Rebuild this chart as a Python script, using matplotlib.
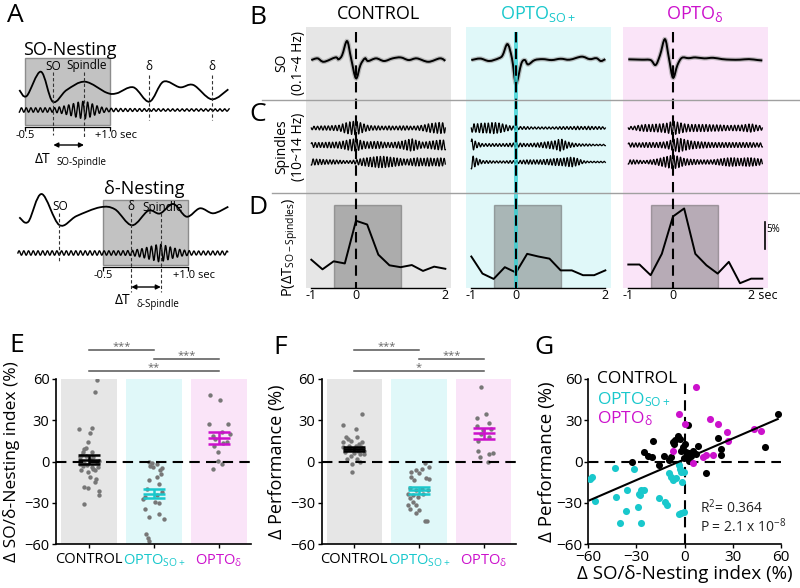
import numpy as np
import matplotlib
matplotlib.use('Agg')
import matplotlib.pyplot as plt
from matplotlib.path import Path
from matplotlib.patches import PathPatch, Rectangle
from matplotlib.lines import Line2D

plt.rcParams['font.family'] = ['Open Sans', 'DejaVu Sans']
plt.rcParams['mathtext.fontset'] = 'custom'
plt.rcParams['mathtext.rm'] = 'Open Sans'
plt.rcParams['mathtext.it'] = 'Open Sans'
plt.rcParams['mathtext.bf'] = 'Open Sans:bold'

W, H = 800, 588
CYAN = '#19c8cc'
MAGENTA = '#cc11cc'
BG = ['#e6e6e6', '#e0f8f9', '#fae4f8']
GROUP_COLORS = ['black', CYAN, MAGENTA]
group_labels = ['CONTROL', r'OPTO$_{\mathrm{SO+}}$', r'OPTO$_{\mathrm{\delta}}$']

# ---------------- panel A (schematic) ----------------
a_top_so_t = [-0.60, -0.47, -0.22, -0.01, 0.235, 0.558, 0.94, 1.117, 1.411, 1.693, 1.94, 2.234, 2.469, 2.792, 3.086]
a_top_so_amp = [0, -6, 18.3, -11.7, 0, 8.3, -2.7, -3.3, 2.7, -11.7, 8.3, 2.7, 5, -9.3, 0.7]
a_top_sp_t = [-0.6, 0.0, 0.15, 0.3, 0.45, 0.55, 0.65, 0.8, 0.95, 1.2, 2.0, 3.1]
a_top_sp_env = [2.2, 2.2, 3.5, 5.5, 8, 9, 7, 3.5, 1.8, 1.5, 1.2, 1.2]
a_top_marks = [0.0, 0.54, 1.69, 2.79]

a_bot_so_t = [-1.975, -1.816, -1.581, -1.27, -0.964, -0.552, -0.288, 0.012, 0.30, 0.506, 0.741, 0.976, 1.212, 1.447, 1.711]
a_bot_so_amp = [-0.3, -4.7, 23, -8, 1, 9.7, 7.7, -8.3, 6.3, 3.5, 13, 0.3, 8.7, 3.7, 10.3]
a_bot_sp_t = [-2.0, -0.2, 0.0, 0.2, 0.4, 0.5, 0.6, 0.75, 0.9, 1.1, 1.7]
a_bot_sp_env = [2.2, 2.2, 2.5, 4.5, 7.5, 9, 7.5, 5, 3, 2, 2]
a_bot_marks = [-1.27, 0.0, 0.52]

# ---------------- panels B-D ----------------
so_t = [
    [-1.0, -0.86, -0.72, -0.46, -0.39, -0.31, -0.20, -0.11, 0.0, 0.10, 0.20, 0.27, 0.45, 0.63, 0.82, 1.0, 1.18, 1.36, 1.62, 1.88, 2.0],
    [-1.0, -0.8, -0.6, -0.39, -0.30, -0.19, -0.09, 0.0, 0.12, 0.20, 0.27, 0.42, 0.6, 0.8, 1.0, 1.2, 1.47, 1.65, 1.8, 1.9, 2.0],
    [-1.0, -0.7, -0.5, -0.39, -0.29, -0.18, -0.09, 0.0, 0.10, 0.20, 0.35, 0.5, 0.7, 0.9, 1.1, 1.3, 1.5, 1.7, 1.9, 2.0],
]
so_val = [
    [0, 0.09, -0.09, 0.14, 0.04, 0.26, 1.0, 0.09, -0.96, -0.26, 0.09, -0.05, 0.09, -0.05, 0.09, 0.14, 0, 0.09, -0.09, 0.09, -0.04],
    [0, 0.08, -0.05, 0.09, 0.25, 0.84, 0.09, -1.23, -0.18, 0.0, -0.23, 0.0, 0.05, 0.0, 0.07, 0.02, 0.18, 0.05, 0.1, -0.05, 0.05],
    [0.04, 0.02, 0.0, -0.26, 0.26, 1.1, 0.09, -0.93, -0.26, 0.12, 0.10, 0.14, 0.09, 0.12, 0.05, 0.02, 0.02, 0.05, 0.0, -0.02],
]

env_t = np.arange(-1.0, 2.001, 0.125)
spindle_env = [
    [
        [0.25, 0.25, 0.3, 0.3, 0.35, 0.4, 0.7, 0.9, 1.0, 0.7, 0.4, 0.3, 0.3, 0.25, 0.3, 0.25, 0.3, 0.3, 0.25, 0.3, 0.4, 0.6, 0.7, 0.8, 0.7],
        [0.35, 0.35, 0.35, 0.4, 0.4, 0.45, 0.6, 0.8, 0.9, 0.6, 0.45, 0.5, 0.5, 0.4, 0.35, 0.4, 0.5, 0.7, 0.9, 0.6, 0.4, 0.5, 0.6, 0.7, 0.7],
        [0.45, 0.4, 0.35, 0.3, 0.3, 0.25, 0.2, 0.2, 0.3, 0.5, 0.6, 0.7, 0.8, 0.8, 0.7, 0.6, 0.5, 0.4, 0.5, 0.6, 0.5, 0.6, 0.5, 0.6, 0.5],
    ],
    [
        [0.6, 0.6, 0.7, 0.7, 0.8, 0.7, 0.5, 0.3, 0.25, 0.2, 0.2, 0.15, 0.15, 0.15, 0.15, 0.15, 0.2, 0.2, 0.2, 0.25, 0.2, 0.25, 0.2, 0.2, 0.15],
        [0.9, 0.4, 0.2, 0.2, 0.2, 0.2, 0.2, 0.25, 0.3, 0.25, 0.2, 0.25, 0.3, 0.4, 0.5, 0.6, 0.9, 0.5, 0.3, 0.2, 0.15, 0.15, 0.1, 0.1, 0.1],
        [1.0, 0.5, 0.2, 0.2, 0.15, 0.15, 0.15, 0.2, 0.2, 0.25, 0.3, 0.3, 0.3, 0.35, 0.4, 0.5, 0.5, 0.6, 0.7, 0.5, 0.2, 0.1, 0.1, 0.1, 0.1],
    ],
    [
        [0.2, 0.25, 0.4, 0.5, 0.5, 0.55, 0.6, 0.7, 1.0, 0.8, 0.6, 0.5, 0.5, 0.5, 0.5, 0.45, 0.45, 0.4, 0.35, 0.4, 0.4, 0.5, 0.6, 0.4, 0.3],
        [0.3, 0.3, 0.3, 0.35, 0.35, 0.35, 0.4, 0.5, 0.8, 1.0, 0.8, 0.6, 0.5, 0.45, 0.4, 0.35, 0.35, 0.35, 0.35, 0.35, 0.35, 0.35, 0.35, 0.3, 0.3],
        [0.3, 0.3, 0.25, 0.2, 0.3, 0.4, 0.6, 0.8, 1.0, 0.8, 0.5, 0.4, 0.35, 0.3, 0.3, 0.3, 0.4, 0.5, 0.6, 0.6, 0.5, 0.6, 0.6, 0.5, 0.4],
    ],
]
spindle_freq = 12.5

hist_t = np.arange(-1.0, 2.001, 0.25)
hist_pct = [
    [5.3, 3.5, 5.0, 4.6, 12.6, 11.9, 6.25, 4.25, 3.9, 4.3, 3.2, 4.0, 3.6],
    [5.9, 2.7, 1.7, 3.9, 2.9, 6.4, 5.9, 5.5, 3.3, 3.3, 2.4, 2.4, 3.3],
    [4.4, 4.4, 2.4, 6.4, 13.4, 14.9, 6.4, 4.25, 2.7, 4.9, 0.9, 1.75, 1.75],
]
window = (-0.5, 1.0)
window_top = 15.5
d_ticklabels = [['-1', '0', '2'], ['-1', '0', '2'], ['-1', '0', '2 sec']]

# ---------------- panel E ----------------
e_off = [
    [0.12, 0.09, -0.16, 0.04, 0.01, -0.02, -0.07, -0.09, -0.10, -0.05, 0.06, -0.12, -0.07, -0.03, 0.04, 0.09, -0.02, -0.12,
     0.01, 0.11, 0.09, -0.07, -0.02, 0.15, 0.15, -0.07, -0.14, 0.12, 0.01, -0.09, 0.05, 0.16, -0.04, 0.06, -0.14, 0.14],
    [-0.08, -0.03, 0.04, 0.13, 0.09, -0.01, -0.06, 0.11, 0.04, -0.08, 0.08, -0.10, 0.13, -0.14, 0.05, -0.14, 0.01, 0.08,
     -0.08, 0.08, 0.15, -0.13, -0.09, -0.07, -0.17],
    [-0.14, 0.02, -0.16, 0.14, -0.09, 0.04, 0.17, 0.12, -0.08, 0.06, -0.01, -0.02, 0.04, -0.09, -0.06],
]
e_val = [
    [59, 50.6, 23.5, 24.2, 21, 14.4, 9, 6.7, 5, 4.3, 3, 0.7, -1.2, -2.2, -4, -6.5, -7.7, -6,
     -11.3, -12.5, -15, -18.5, -19, -21.4, -24.5, -31, 3, -0.5, 2, -3.6, 6.7, 0.7, 10, -5.3, -1.7, -4],
    [0, -1, -1.7, -4.6, -6, -4, -3, -9, -11.3, -13.7, -16, -19.7, -22, -26, -24.5, -34.8, -29.7, -30.5,
     -40.5, -38.4, -42, -53, -55.6, -58, -27],
    [48.2, 44.4, 27.6, 27.1, 18.7, 21.1, 19.9, 14.4, 11.5, 13.2, 6.7, 0.7, -1.7, -5.8, 16.3],
]
e_mean = [1.4, -23.3, 17.0]
e_sem = [3.0, 3.6, 4.2]
e_sig = ['***', '***', '**']

# ---------------- panel F ----------------
f_off = [
    [0.12, -0.17, 0.03, -0.13, 0.04, -0.05, -0.10, 0.07, 0.12, -0.17, -0.08, 0.10, 0.15, -0.14, 0.0, 0.08, -0.05, -0.12,
     0.04, 0.09, -0.03, -0.03, -0.08, 0.02, 0.15, -0.17, 0.05],
    [0.09, 0.16, 0.04, -0.05, -0.12, 0.0, -0.12, -0.08, 0.11, 0.16, -0.14, 0.04, -0.04, 0.14, -0.17, -0.09, 0.06, -0.14,
     -0.02, -0.17, -0.04, -0.14, 0.0, -0.04, 0.09, 0.12, -0.09],
    [-0.04, -0.11, 0.04, -0.11, 0.08, -0.01, 0.12, -0.04, -0.09, 0.09, -0.08, 0.09, 0.14, -0.06, 0.07],
]
f_val = [
    [34.3, 26.4, 23.5, 17.5, 18, 15.1, 16.3, 12.7, 13.9, 10.3, 9.1, 10.3, 7.9, 6.7, 6, 5.5, 4.3, 1.9,
     1.9, -0.5, -1.7, -7.7, 11.5, 11.5, 5.5, 13.9, 7.9],
    [-1.2, -4, -5.3, -6.5, -7.7, -8.4, -11.3, -13.2, -11.8, -12.5, -19, -19.7, -20.9, -20.9, -23.3, -24.5, -23.3, -26.9,
     -25.7, -31.7, -31.7, -34.8, -35.3, -37.2, -43, -43.4, -29.3],
    [54, 31.4, 34.3, 25.9, 28.3, 22.8, 23.5, 19.9, 15.1, 17.5, 7.9, 5.5, 6, 3.1, -0.5],
]
f_mean = [9.1, -20.9, 20.4]
f_sem = [1.7, 2.6, 4.1]
f_sig = ['***', '***', '*']
sig_pairs = [(1, 2), (2, 3), (1, 3)]

# ---------------- panel G ----------------
g_x = [
    [-32.4, -25.1, -23, -19.9, -19.5, -16.1, -12.6, -9.4, -8.4, -7.3, -6.3, -5.6, -4.2, -2.7, -2.1, -1, 0, 1, 1.5, 2.7,
     2.1, 4.2, 5.2, 7.3, 8.4, 13.6, 20.9, 23, 22.6, 50.2, 58, -0.6, 3.1],
    [-59, -57.5, -55.4, -43.3, -42.5, -40.2, -36.6, -36, -31.4, -28.7, -28.2, -27.2, -27.6, -25.1, -26.8, -15.7, -11.9,
     -10.9, -9.8, -8.4, -7.3, -5.2, -3.6, -3.1, -2.1, -1.5, -0.6, -2.1, -3.6, -0.4],
    [7.3, -3.6, 0, -6.9, 5.2, 11.5, 13.2, 17.8, 15.7, 20.9, 26.2, 27.2, 43.3, 47.5],
]
g_y = [
    [0, 6.7, 4.3, 3.6, 15.1, -2.4, 4.3, 1.2, 3.1, 13.9, 12.7, 15.6, 18.7, 16.3, 7.9, 10.3, 12.7, 6.7, 3.6, 0.7,
     26.6, 4.3, 7.9, 5.5, 11.5, -8.4, 17, 9.1, 5, 10.3, 34.3, 2.6, 6],
    [-13, -11.3, -28.5, -4.6, -26.1, -44.4, -35.7, -20.9, -5.3, -32.9, -23.3, -20.9, -24, -20.9, -44.4, -26.9, -29.3,
     -31.7, -8.4, -11.3, -13.2, -12, -2.9, -5.3, -7.7, -14.9, -7.7, -37.2, -38.1, -36.5],
    [54, 34.3, 27.6, 7.4, -1.2, 3.6, 5, 5, 30.7, 27.6, 21.8, 15.1, 24, 22.3],
]
fit_slope, fit_intercept = 0.505, 1.6
fit_r2, fit_p = '0.364', r'2.1 x 10$^{\mathrm{-8}}$'


def px_axes(x0, y0, x1, y1):
    return fig.add_axes([x0 / W, 1 - y1 / H, (x1 - x0) / W, (y1 - y0) / H])


def smooth(ax, x, y, **kw):
    # draws a smooth curve through the read points (bezier segments)
    pts = np.column_stack([x, y]).astype(float)
    verts, codes = [pts[0]], [Path.MOVETO]
    n = len(pts)
    for i in range(n - 1):
        p0 = pts[max(i - 1, 0)]
        p1, p2 = pts[i], pts[i + 1]
        p3 = pts[min(i + 2, n - 1)]
        verts += [p1 + (p2 - p0) / 6, p2 - (p3 - p1) / 6, p2]
        codes += [Path.CURVE4] * 3
    ax.add_patch(PathPatch(Path(verts, codes), fill=False, **kw))


def spindle(t_env, env, t0, t1, freq):
    t = np.linspace(t0, t1, 3000)
    return t, np.interp(t, t_env, env) * np.sin(2 * np.pi * freq * t)


def letter(x, y, s):
    fig.text(x / W, 1 - y / H, s, fontsize=19, ha='center', va='center')


fig = plt.figure(figsize=(8, 5.88), dpi=100)

# ---------------- A ----------------
dash = (0, (3, 2))
for part in range(2):
    if part == 0:
        ax = px_axes(10, 30, 245, 175)
        ax.set_xlim(-0.7646, 3.380)
        ax.set_ylim(175, 30)
        box_y, so_base, sp_base = (58, 125), 90, 110
        so_t_a, so_a, sp_t_a, sp_e = a_top_so_t, a_top_so_amp, a_top_sp_t, a_top_sp_env
        marks, mark_lab = a_top_marks, ['SO', 'Spindle', 'δ', 'δ']
        mark_y = [(72, 135), (72, 137), (75, 120), (75, 120)]
        lab_x = [0.0, 0.593, 1.69, 2.79]
        lab_y = 66
        title, title_xy = 'SO-Nesting', (0.294, 50)
        arr = (marks[0], marks[1], 145)
        dt_sub, dt_xy = 'SO-Spindle', (-0.324, 159)
    else:
        ax = px_axes(10, 180, 245, 315)
        ax.set_xlim(-2.139, 2.005)
        ax.set_ylim(315, 180)
        box_y, so_base, sp_base = (200, 265), 217, 253
        so_t_a, so_a, sp_t_a, sp_e = a_bot_so_t, a_bot_so_amp, a_bot_sp_t, a_bot_sp_env
        marks, mark_lab = a_bot_marks, ['SO', 'δ', 'Spindle']
        mark_y = [(213, 262), (213, 292), (213, 292)]
        lab_x = [-1.26, 0.0, 0.56]
        lab_y = 207
        title, title_xy = 'δ-Nesting', (0.226, 189)
        arr = (marks[1], marks[2], 287)
        dt_sub, dt_xy = 'δ-Spindle', (-0.288, 301)
    ax.axis('off')
    ax.add_patch(Rectangle((window[0], box_y[0]), window[1] - window[0], box_y[1] - box_y[0],
                           fc='#c2c2c2', ec='#8c8c8c', lw=1, zorder=0))
    ax.plot(window, [box_y[1] + 2] * 2, color='k', lw=0.9)
    ax.vlines(window, box_y[1] + 2, box_y[1] + 6, color='k', lw=0.9)
    ax.text(window[0], box_y[1] + 5, '-0.5', fontsize=8, ha='center', va='top')
    ax.text(0.74, box_y[1] + 5, '+1.0 sec', fontsize=8, ha='left', va='top')
    so_y = so_base - np.array(so_a)
    smooth(ax, so_t_a, so_y, color='k', lw=1.3, zorder=3)
    t_sp, s_sp = spindle(sp_t_a, sp_e, sp_t_a[0], sp_t_a[-1], 12.0)
    ax.plot(t_sp, sp_base - s_sp, color='k', lw=1.0, zorder=3)
    for m, (y0, y1) in zip(marks, mark_y):
        ax.vlines(m, y0, y1, color='#333333', lw=0.8, linestyles=dash, zorder=4)
    for lx, lab in zip(lab_x, mark_lab):
        ax.text(lx, lab_y, lab, fontsize=8.5, ha='center', va='center')
    ax.text(*title_xy, title, fontsize=13, ha='center', va='center')
    ax.annotate('', xy=(arr[1], arr[2]), xytext=(arr[0], arr[2]),
                arrowprops=dict(arrowstyle='<|-|>', color='k', lw=1, mutation_scale=7, shrinkA=0, shrinkB=0))
    ax.text(dt_xy[0], dt_xy[1], 'ΔT', fontsize=10, ha='left', va='center')
    ax.text(dt_xy[0] + 0.385, dt_xy[1] + 3, dt_sub, fontsize=7, ha='left', va='center')

letter(15, 16, 'A')

# ---------------- B-D ----------------
col_x0 = [306, 466, 623]
xl = (-1.119, 2.127)
row_y_sp = [128, 145, 162]
for i, x0 in enumerate(col_x0):
    x1 = x0 + 145
    axs = px_axes(x0, 27, x1, 100)
    axc = px_axes(x0, 100, x1, 193)
    axd = px_axes(x0, 193, x1, 288)
    for a in (axs, axc, axd):
        a.set_facecolor(BG[i])
        a.set_xlim(*xl)
        for sp in a.spines.values():
            sp.set_visible(False)
        a.set_yticks([])
    axs.set_xticks([])
    axc.set_xticks([])
    # SO mean trace
    axs.set_ylim(-2.1, 1.74)
    smooth(axs, so_t[i], so_val[i], color='#9a9a9a', lw=3.2, alpha=0.6, zorder=2)
    smooth(axs, so_t[i], so_val[i], color='k', lw=1.4, zorder=3)
    # spindle traces
    axc.set_ylim(193, 100)
    for k in range(3):
        t_sp, s_sp = spindle(env_t, spindle_env[i][k], -1.0, 2.0, spindle_freq + 0.4 * k)
        axc.plot(t_sp, row_y_sp[k] - 7 * s_sp, color='k', lw=0.9)
    # histogram of delta T
    axd.set_ylim(0, 17.8)
    axd.add_patch(Rectangle((window[0], 0), window[1] - window[0], window_top,
                            fc='#666666', alpha=0.45, ec='#555555', lw=1, zorder=1))
    axd.plot(hist_t, hist_pct[i], color='k', lw=1.4, zorder=3)
    axd.spines['bottom'].set_visible(True)
    axd.spines['bottom'].set_bounds(-1, 2)
    axd.spines['bottom'].set_linewidth(1)
    axd.set_xticks([-1, 0, 2])
    axd.set_xticklabels(d_ticklabels[i], fontsize=9)
    axd.tick_params(axis='x', length=0, pad=1)
    if i == 2:
        axd.plot([2.05, 2.05], [7.4, 12.4], color='k', lw=1.2, clip_on=False)
        axd.text(2.09, 10.9, '5%', fontsize=7, ha='left', va='center')
    # overlay: stimulation bar and zero line
    axo = px_axes(x0, 27, x1, 288)
    axo.set_xlim(*xl)
    axo.set_ylim(288, 27)
    axo.axis('off')
    if i == 1:
        axo.add_patch(Rectangle((-0.045, 32), 0.09, 256, fc='#2ed1d4', alpha=0.75, lw=0))
    axo.vlines(0, 32, 288, color='k', lw=1.5, linestyles=(0, (5, 3)))
    fig.text((x0 + 72) / W, 1 - 14 / H, group_labels[i], color=GROUP_COLORS[i],
             fontsize=13, ha='center', va='center')

for yy, xs in ((100, 262), (193, 272)):
    fig.add_artist(Line2D([xs / W, 1], [1 - yy / H] * 2, color='#a0a0a0', lw=1))

fig.text(290 / W, 1 - 63 / H, 'SO\n(0.1~4 Hz)', rotation=90, fontsize=10, ha='center', va='center',
         multialignment='center', linespacing=1.1)
fig.text(290 / W, 1 - 147 / H, 'Spindles\n(10~14 Hz)', rotation=90, fontsize=10, ha='center', va='center',
         multialignment='center', linespacing=1.1)
fig.text(290 / W, 1 - 247 / H, r'P(ΔT$_{\mathrm{SO-Spindles}}$)', rotation=90, fontsize=10.5,
         ha='center', va='center')
letter(258, 18, 'B')
letter(258, 115, 'C')
letter(258, 207, 'D')


# ---------------- E, F ----------------
def dots_panel(ax, offs, vals, means, sems, sig, ylabel):
    ax.set_xlim(0.5, 3.5)
    ax.set_ylim(-60, 60)
    for k in range(3):
        ax.bar(k + 1, 120, bottom=-60, width=0.86, color=BG[k], zorder=0)
        ax.scatter(k + 1 + np.array(offs[k]), vals[k], s=10, color='#777777', lw=0, zorder=2)
        m, s = means[k], sems[k]
        ax.hlines([m - s, m, m + s], k + 1 - 0.17, k + 1 + 0.17, color=GROUP_COLORS[k], lw=1.8, zorder=4)
        ax.vlines(k + 1, m - s, m + s, color=GROUP_COLORS[k], lw=1.8, zorder=4)
    ax.axhline(0, color='k', lw=1.5, ls=(0, (5, 3)), zorder=3)
    ax.spines['top'].set_visible(False)
    ax.spines['right'].set_visible(False)
    for sp in ('left', 'bottom'):
        ax.spines[sp].set_linewidth(1.2)
    ax.set_yticks([-60, -30, 0, 30, 60])
    ax.set_xticks([1, 2, 3])
    ax.set_xticklabels(group_labels)
    for lab, c in zip(ax.get_xticklabels(), GROUP_COLORS):
        lab.set_color(c)
    ax.tick_params(axis='both', labelsize=10.5, length=3, width=1, pad=2)
    ax.tick_params(axis='x', pad=3)
    ax.set_ylabel(ylabel, fontsize=12.5, labelpad=3)
    for (a, b), lab, lev in zip(sig_pairs, sig, [81, 74.5, 65.8]):
        ax.plot([a, b], [lev, lev], color='#555555', lw=1.1, clip_on=False)
        ax.text((a + b) / 2, lev - 1.5, lab, ha='center', va='bottom', fontsize=8, color='#666666')


axE = px_axes(56.5, 379, 251.5, 544)
dots_panel(axE, e_off, e_val, e_mean, e_sem, e_sig, 'Δ SO/δ-Nesting index (%)')
axF = px_axes(322, 379, 516, 544)
dots_panel(axF, f_off, f_val, f_mean, f_sem, f_sig, 'Δ Performance (%)')
axF.yaxis.label.set_size(13)
letter(17, 345, 'E')
letter(280, 347, 'F')

# ---------------- G ----------------
axG = px_axes(588, 379, 781, 544)
axG.set_xlim(-60, 60)
axG.set_ylim(-60, 60)
axG.axhline(0, color='k', lw=1.5, ls=(0, (5, 3)), zorder=1)
axG.axvline(0, color='k', lw=1.5, ls=(0, (5, 3)), zorder=1)
for k in (1, 0, 2):
    axG.scatter(g_x[k], g_y[k], s=26, color=GROUP_COLORS[k], lw=0, zorder=3)
all_x = np.concatenate([np.array(v, float) for v in g_x])
fx = np.array([all_x.min(), all_x.max()])
axG.plot(fx, fit_slope * fx + fit_intercept, color='k', lw=1.5, zorder=4)
axG.spines['top'].set_visible(False)
axG.spines['right'].set_visible(False)
for sp in ('left', 'bottom'):
    axG.spines[sp].set_linewidth(1.2)
axG.set_xticks([-60, -30, 0, 30, 60])
axG.set_yticks([-60, -30, 0, 30, 60])
axG.tick_params(axis='both', labelsize=11, length=3, width=1, pad=1)
axG.set_xlabel('Δ SO/δ-Nesting index (%)', fontsize=13.5, labelpad=0)
axG.set_ylabel('Δ Performance (%)', fontsize=13.5, labelpad=0)
for lab, c, yf in zip(group_labels, GROUP_COLORS, [0.976, 0.848, 0.733]):
    axG.text(0.047, yf, lab, color=c, fontsize=12.5, transform=axG.transAxes, ha='left', va='baseline')
axG.text(0.58, 0.19, 'R$^{\\mathrm{2}}$= ' + fit_r2, fontsize=10, transform=axG.transAxes, ha='left',
         va='baseline', color='#222222')
axG.text(0.58, 0.075, 'P = ' + fit_p, fontsize=10, transform=axG.transAxes, ha='left', va='baseline',
         color='#222222')
letter(544, 347, 'G')

fig.savefig('out.png', dpi=100)
